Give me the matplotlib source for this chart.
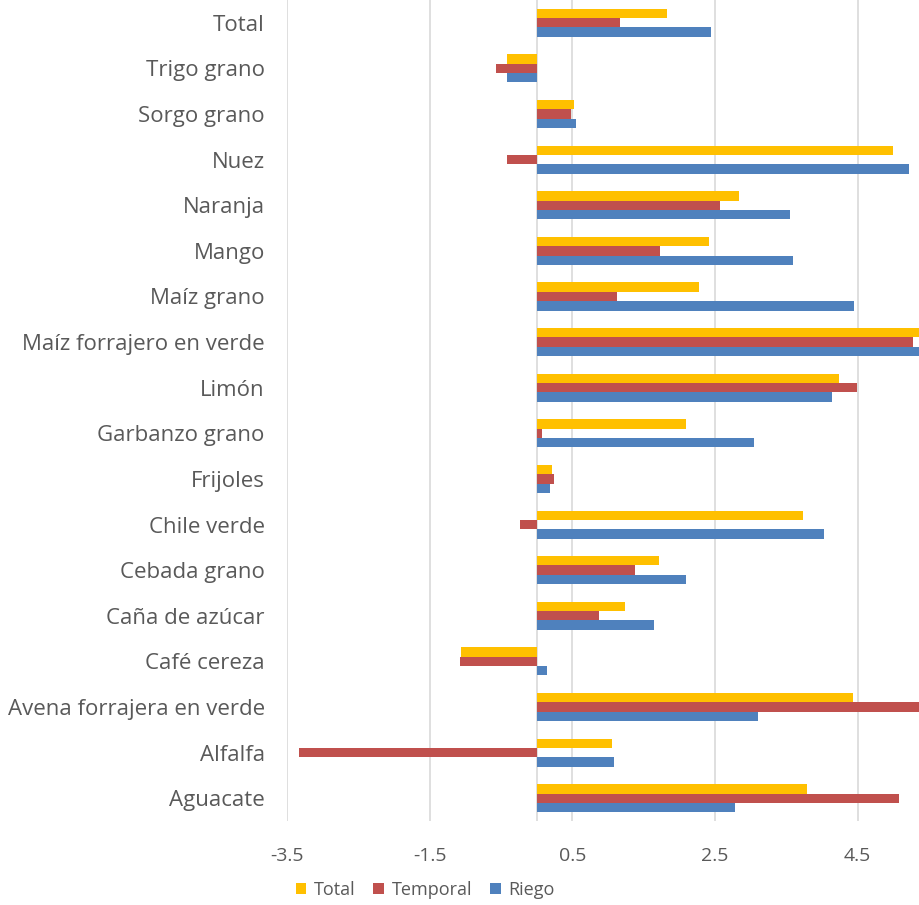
import matplotlib
matplotlib.use("Agg")
import matplotlib.pyplot as plt
import numpy as np

categories = ["Total", "Trigo grano", "Sorgo grano", "Nuez", "Naranja", "Mango",
              "Maíz grano", "Maíz forrajero en verde", "Limón", "Garbanzo grano",
              "Frijoles", "Chile verde", "Cebada grano", "Caña de azúcar",
              "Café cereza", "Avena forrajera en verde", "Alfalfa", "Aguacate"]

total = [1.83, -0.42, 0.53, 4.99, 2.83, 2.41, 2.27, 5.60, 4.24, 2.10,
         0.21, 3.73, 1.71, 1.24, -1.06, 4.43, 1.05, 3.79]
temporal = [1.17, -0.57, 0.48, -0.42, 2.57, 1.73, 1.12, 5.27, 4.49, 0.08,
            0.24, -0.24, 1.38, 0.88, -1.08, 5.80, -3.33, 5.08]
riego = [2.45, -0.41, 0.55, 5.22, 3.55, 3.59, 4.45, 5.50, 4.14, 3.05,
         0.19, 4.03, 2.10, 1.64, 0.15, 3.10, 1.08, 2.78]

series_names = ["Total", "Temporal", "Riego"]
series_colors = ["#FFC000", "#C0504D", "#4F81BD"]
x_ticks = [-3.5, -1.5, 0.5, 2.5, 4.5]

plt.rcParams['font.family'] = ['Open Sans', 'DejaVu Sans']

fig = plt.figure(figsize=(9.19, 9.05), dpi=100)
ax = fig.add_axes([0.3123, 0.0928, 0.6877, 0.9072])

y = np.arange(len(categories))
h = 0.205
for i, (vals, name, col) in enumerate(zip([total, temporal, riego], series_names, series_colors)):
    ax.barh(y + (i - 1) * h, vals, height=h, color=col, label=name, zorder=3)

ax.set_xlim(-3.5, 5.36)
ax.set_ylim(len(categories) - 0.5, -0.5)
ax.set_xticks(x_ticks)
ax.set_xticklabels([f"{t:.1f}" for t in x_ticks])
ax.set_yticks(y)
ax.set_yticklabels(categories)

ax.grid(axis='x', color='#D9D9D9', linewidth=1.2, zorder=0)
ax.axvline(0, color='#D9D9D9', linewidth=1.2, zorder=1)
for s in ax.spines.values():
    s.set_visible(False)
ax.tick_params(axis='both', length=0, labelcolor='#595959')
ax.tick_params(axis='x', pad=19, labelsize=14)
ax.tick_params(axis='y', pad=16, labelsize=16)

leg = fig.legend(loc='center', bbox_to_anchor=(0.4625, 0.0166), ncol=3,
                 frameon=False, fontsize=13, handlelength=0.6, handleheight=0.6,
                 handletextpad=0.4, columnspacing=1.0, labelcolor='#595959',
                 borderpad=0)

fig.savefig("out.png", dpi=100, facecolor='white')
